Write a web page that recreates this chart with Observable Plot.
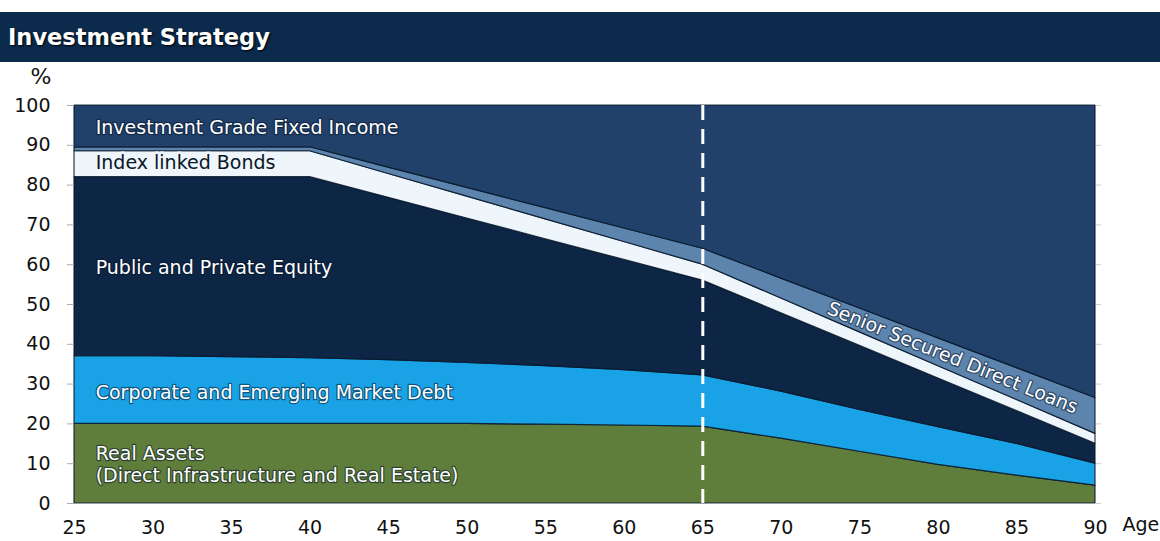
<!DOCTYPE html>
<html><head><meta charset="utf-8">
<script src="https://cdn.jsdelivr.net/npm/d3@7"></script>
<script src="https://cdn.jsdelivr.net/npm/@observablehq/plot@0.6"></script>
<style>
html,body{margin:0;padding:0;background:#fff;font-family:"DejaVu Sans",Verdana,sans-serif;}
#title{margin-top:12px;height:50px;background:#0b2a4c;color:#fff;font-weight:bold;font-size:22.5px;line-height:50px;padding-left:8px;text-shadow:1px 1px 2px #000;box-sizing:border-box;}
#chart svg{display:block;}
</style></head><body>
<div id="title">Investment Strategy</div>
<div id="chart"></div>
<script>
// Data (percent allocation by age), bottom layer first
const ages = [25, 30, 35, 40, 45, 50, 55, 60, 65, 70, 75, 80, 85, 90];
const categories = [
  "Real Assets",
  "Corporate and Emerging Market Debt",
  "Public and Private Equity",
  "Index linked Bonds",
  "Senior Secured Direct Loans",
  "Investment Grade Fixed Income"
];
const realAssets      = [20, 20, 20, 20, 20, 20, 19.8, 19.6, 19.3, 16.3, 13, 9.7, 7, 4.5];
const corporateEMDebt = [17, 17, 16.8, 16.5, 16, 15.3, 14.7, 13.9, 12.9, 11.8, 10.5, 9.5, 8, 5.5];
const equity          = [45, 45, 45.2, 45.5, 40.8, 36.3, 31.9, 27.7, 23.8, 19.7, 16.1, 12.2, 8.2, 5];
const indexLinked     = [6.5, 6.5, 6.5, 6.5, 6, 5.5, 5, 4.5, 4, 3.7, 3.4, 3.1, 2.8, 2.5];
const seniorSecured   = [1, 1, 1, 1, 1.6, 2.2, 2.8, 3.4, 4, 5, 6, 7, 8, 9];
const investmentGrade = [10.5, 10.5, 10.5, 10.5, 15.6, 20.7, 25.8, 30.9, 36, 43.5, 51, 58.5, 66, 73.5];
const colors = ["#5f7d3b", "#19a3e6", "#0d2645", "#eef5fb", "#5d84ad", "#21416a"];

const xTicks = [25, 30, 35, 40, 45, 50, 55, 60, 65, 70, 75, 80, 85, 90];
const yTicks = [0, 10, 20, 30, 40, 50, 60, 70, 80, 90, 100];
const retirementAge = [65];

// in-chart labels
const labelTexts = [
  "Investment Grade Fixed Income",
  "Public and Private Equity",
  "Corporate and Emerging Market Debt",
  "Real Assets\n(Direct Infrastructure and Real Estate)"
];
const labelAges = [26.35, 26.35, 26.35, 26.35];
const labelValues = [94.5, 59.5, 28.1, 10];
const darkLabel = ["Index linked Bonds"];
const darkLabelAge = [26.35];
const darkLabelValue = [85.7];
const slantLabel = ["Senior Secured Direct Loans"];
const slantLabelAge = [80.9];
const slantLabelValue = [36.6];

const seriesValues = [realAssets, corporateEMDebt, equity, indexLinked, seniorSecured, investmentGrade];
const rows = [];
categories.forEach((c, i) => ages.forEach((a, j) => rows.push({age: a, asset: c, value: seriesValues[i][j]})));

const labels = labelTexts.map((t, i) => ({t, age: labelAges[i], v: labelValues[i]}));
const dark = darkLabel.map((t, i) => ({t, age: darkLabelAge[i], v: darkLabelValue[i]}));
const slant = slantLabel.map((t, i) => ({t, age: slantLabelAge[i], v: slantLabelValue[i]}));

const font = "DejaVu Sans, Verdana, sans-serif";
const chart = Plot.plot({
  width: 1160, height: 479,
  marginLeft: 74, marginRight: 65, marginTop: 43, marginBottom: 38,
  x: {domain: [25, 90]},
  y: {domain: [0, 100]},
  color: {domain: categories, range: colors},
  style: {fontFamily: font, background: "#fff", color: "#111"},
  marks: [
    Plot.areaY(rows, {x: "age", y: "value", z: "asset", fill: "asset", stroke: "#07172b", strokeWidth: 1.2, strokeOpacity: 0.85, curve: "linear"}),
    Plot.ruleX(retirementAge, {stroke: "white", strokeWidth: 3, strokeDasharray: "15,9"}),
    Plot.axisX({ticks: xTicks, tickSize: 0, tickPadding: 17, fontSize: 19, label: null, tickFormat: d => d}),
    Plot.axisY({ticks: yTicks, tickSize: 7, tickFormat: () => "", stroke: "#aaa", label: null}),
    Plot.axisY({ticks: yTicks, tickSize: 0, tickPadding: 24, fontSize: 19, label: null}),
    Plot.axisY({anchor: "right", ticks: yTicks, tickSize: 5, tickFormat: () => "", stroke: "#ccc", label: null}),
    Plot.text(labels, {x: "age", y: "v", text: "t", textAnchor: "start", fill: "white", fontSize: 19, lineHeight: 1.16, stroke: "#06142a", strokeWidth: 2.5, strokeOpacity: 0.55}),
    Plot.text(dark, {x: "age", y: "v", text: "t", textAnchor: "start", fill: "#0a1626", fontSize: 19, stroke: "#eef5fb", strokeWidth: 5}),
    Plot.text(slant, {x: "age", y: "v", text: "t", rotate: 22, fill: "white", fontSize: 19, stroke: "#06142a", strokeWidth: 2.5, strokeOpacity: 0.55}),
    Plot.text(["Age"], {frameAnchor: "bottom-right", dx: 27, dy: 27, textAnchor: "start", fontSize: 19, fill: "#111"}),
    Plot.text(["%"], {frameAnchor: "top-left", dx: -44, dy: -37, fontSize: 22, fill: "#111"})
  ]
});
document.getElementById("chart").appendChild(chart);
</script>
</body></html>
